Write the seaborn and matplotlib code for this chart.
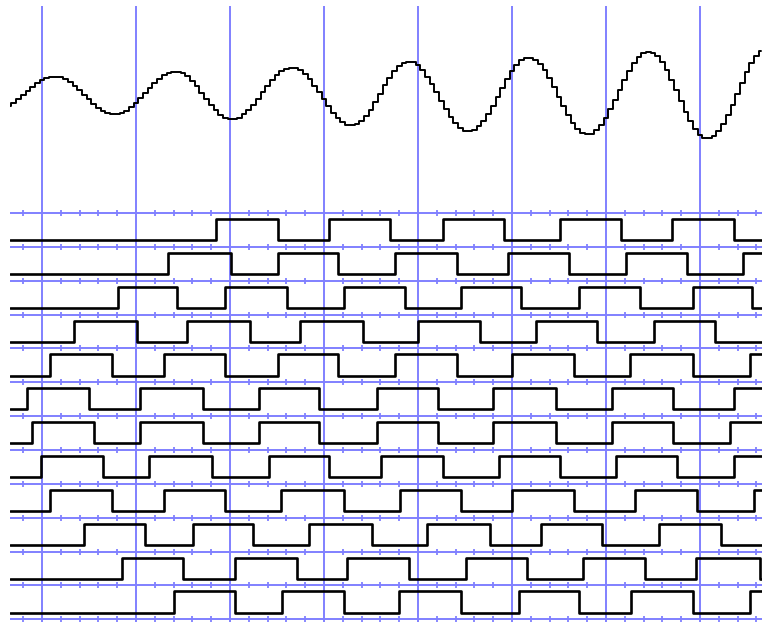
import numpy as np
import pandas as pd
import matplotlib
matplotlib.use("Agg")
import matplotlib.pyplot as plt
import seaborn as sns

# ---------------- data ----------------
# analog trace (sampled every 0.5 time units starting at t = -3.5)
analog_t0 = -3.5
analog_dt = 0.5
analog_values = [
    -10, -7, -3, 1, 5, 9, 13, 16, 18, 19,
    19, 19, 17, 14, 10, 6, 1, -3, -8, -12, -15, -17, -18,
    -18, -17, -15, -11, -7, -2, 3, 8, 13, 17, 21, 23, 24,
    24, 23, 20, 15, 10, 3, -3, -9, -14, -19, -22, -23,
    -23, -22, -18, -14, -9, -3, 4, 10, 16, 21, 25, 27, 28,
    28, 26, 22, 17, 10, 4, -3, -10, -17, -22, -26, -29,
    -29, -28, -25, -20, -14, -6, 2, 11, 18, 25, 30, 33, 34,
    34, 31, 26, 19, 12, 4, -5, -13, -21, -27, -32, -35,
    -35, -34, -30, -25, -18, -10, -1, 8, 17, 25, 31, 36, 38,
    38, 36, 32, 26, 18, 9, -1, -10, -19, -27, -33, -37, -38,
    -38, -34, -29, -22, -13, -4, 6, 16, 25, 33, 39, 43, 44,
    43, 40, 34, 26, 16, 6, -5, -16, -25, -33, -39, -42,
    -42, -40, -35, -28, -19, -9, 2, 13, 24, 33, 40, 45,
]

# digital channels: every channel starts low, values are toggle times
ch01 = [18.5, 25.1, 30.5, 37.0, 42.7, 49.1, 55.1, 61.6, 67.0, 73.6]
ch02 = [13.4, 20.1, 25.1, 31.5, 37.6, 44.1, 49.6, 56.1, 62.1, 68.6, 74.6]
ch03 = [8.1, 14.4, 19.5, 26.1, 32.1, 38.6, 44.6, 51.0, 57.1, 63.6, 69.3, 75.5]
ch04 = [3.4, 10.1, 15.4, 22.1, 27.4, 34.1, 40.0, 46.6, 52.6, 59.0, 65.1, 71.6]
ch05 = [0.9, 7.5, 13.0, 19.5, 25.1, 31.5, 37.6, 44.1, 50.0, 56.6, 62.6, 69.3, 75.3]
ch06 = [-1.6, 5.0, 10.4, 17.1, 23.1, 29.5, 35.6, 42.1, 48.0, 54.7, 60.6, 67.1, 73.6]
ch07 = [-1.1, 5.5, 10.4, 17.1, 23.1, 29.5, 35.6, 42.1, 48.0, 54.7, 60.6, 67.1, 73.2]
ch08 = [-0.1, 6.5, 11.4, 18.1, 24.1, 30.5, 36.1, 42.7, 48.6, 55.1, 61.1, 67.6, 73.6]
ch09 = [0.9, 7.5, 13.0, 19.5, 25.4, 32.1, 38.1, 44.6, 50.0, 56.6, 63.1, 69.7, 75.7]
ch10 = [4.5, 11.0, 16.1, 22.4, 28.4, 35.1, 41.0, 47.7, 53.1, 59.6, 65.6, 72.2]
ch11 = [8.5, 15.0, 20.5, 27.1, 32.5, 39.0, 45.1, 51.6, 57.6, 64.1, 69.6, 76.4]
ch12 = [14.0, 20.5, 25.5, 32.1, 38.0, 44.6, 50.7, 57.1, 62.7, 69.3, 75.3]
channels = [ch01, ch02, ch03, ch04, ch05, ch06, ch07, ch08, ch09, ch10, ch11, ch12]

# ---------------- layout ----------------
X_MIN, X_MAX = -3.4, 76.6
GRID = "#8080ff"
HIGH_OFF, LOW_OFF = 0.177, 0.80

major = np.arange(0, 71, 10)
minor = [m for m in np.arange(-2, 77, 2) if m % 10 != 0]

sns.set_theme(style="white")
fig = plt.figure(figsize=(7.62, 6.22), dpi=100)
fig.patch.set_facecolor("white")

ax_top = fig.add_axes([10 / 762, 417 / 622, 752 / 762, 199 / 622])
ax_bot = fig.add_axes([10 / 762, 0.0, 752 / 762, 417 / 622])

for ax in (ax_top, ax_bot):
    ax.set_facecolor("white")
    ax.set_xlim(X_MIN, X_MAX)
    ax.set_xticks(major)
    ax.grid(True, axis="x", color=GRID, lw=1.4)
    ax.set_axisbelow(True)
    ax.tick_params(length=0, labelbottom=False, labelleft=False)
    for s in ax.spines.values():
        s.set_visible(False)
    ax.set_xlabel("")
    ax.set_ylabel("")

# analog trace
analog_t = analog_t0 + analog_dt * np.arange(len(analog_values))
sns.lineplot(x=analog_t, y=analog_values, ax=ax_top, color="black", lw=1.4,
             drawstyle="steps-mid", estimator=None, sort=True)
ax_top.set_ylim(-109.5, 89.5)
ax_top.set_yticks([])
ax_top.set_xlabel("")
ax_top.set_ylabel("")

# channel rows
n = len(channels)
ax_bot.set_yticks(range(n + 1))
ax_bot.grid(True, axis="y", color=GRID, lw=1.4)
ax_bot.set_ylim(n + 0.08, -0.236)

mx, my = [], []
for k in range(n + 1):
    for m in minor:
        mx.append(m)
        my.append(k)
ax_bot.plot(mx, my, ls="none", marker="|", ms=5, mew=1.3, color=GRID, zorder=1.5)

rows = []
for k, toggles in enumerate(channels):
    state = 0
    rows.append((k, X_MIN, state))
    for t in toggles:
        state = 1 - state
        rows.append((k, t, state))
    rows.append((k, X_MAX, state))
df = pd.DataFrame(rows, columns=["channel", "t", "state"])
df["y"] = df["channel"] + np.where(df["state"] == 1, HIGH_OFF, LOW_OFF)

sns.lineplot(data=df, x="t", y="y", units="channel", estimator=None, ax=ax_bot,
             color="black", lw=1.9, drawstyle="steps-post", sort=True, zorder=3)
ax_bot.set_xlabel("")
ax_bot.set_ylabel("")
ax_bot.set_xlim(X_MIN, X_MAX)

fig.savefig("out.png", dpi=100, facecolor="white")
